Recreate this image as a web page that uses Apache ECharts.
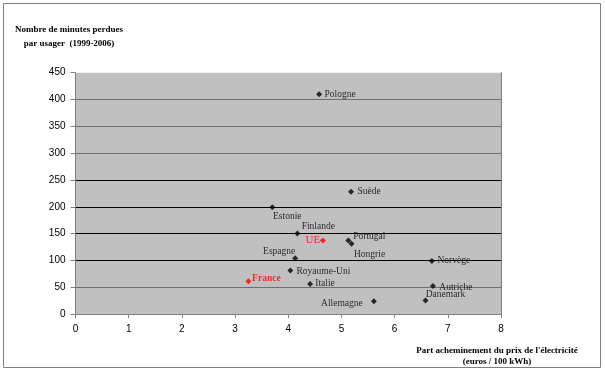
<!DOCTYPE html>
<html><head><meta charset="utf-8">
<script src="https://cdn.jsdelivr.net/npm/echarts@6/dist/echarts.min.js"></script>
<style>html,body{margin:0;padding:0;background:#fff}#c{width:605px;height:374px}</style>
</head><body><div id="c"></div>
<script>
var countries = ['Pologne','Suède','Estonie','Finlande','UE','Portugal','Hongrie','Espagne','Norvège','Royaume-Uni','France','Italie','Autriche','Danemark','Allemagne'];
var priceShare = [4.58,5.18,3.70,4.17,4.65,5.13,5.19,4.13,6.70,4.04,3.25,4.41,6.72,6.58,5.61];
var minutesLost = [410,228,199,150,137,137,131,104,99,81,61,56,52,25,24];
var highlighted = ['UE','France'];
var xTicks = [0,1,2,3,4,5,6,7,8];
var yTicks = [0,50,100,150,200,250,300,350,400,450];

// label placement (pixel offsets of text centre from the marker)
var labelOffsets = {
  'Pologne':[21,0],'Suède':[18,0],'Estonie':[15,9],'Finlande':[21,-7],'UE':[-10,0],
  'Portugal':[21,-4],'Hongrie':[18,11],'Espagne':[-16,-7],'Norvège':[22,0],
  'Royaume-Uni':[33,1],'France':[18,-3],'Italie':[15,0],'Autriche':[23,1],
  'Danemark':[20,-6],'Allemagne':[-32,2]
};
var SYM = 6;

var data = countries.map(function(n,i){
  var red = highlighted.indexOf(n) >= 0;
  var o = labelOffsets[n];
  return {
    name:n, value:[priceShare[i], minutesLost[i]],
    itemStyle:{color: red ? '#ff0000' : '#000000'},
    label:{
      show:true, position:[SYM/2 + o[0], SYM/2 + o[1]], align:'center', verticalAlign:'middle', formatter:n,
      color: red ? '#ff0000' : '#000000',
      fontFamily:'Liberation Serif', fontSize: n==='UE' ? 11 : 9.5,
      fontWeight: n==='France' ? 'bold' : 'normal'
    }
  };
});

var chart = echarts.init(document.getElementById('c'), null, {renderer:'canvas'});
chart.setOption({
  animation:false,
  backgroundColor:'#ffffff',
  grid:{left:75.5, right:104, top:72.7, bottom:60, show:true, backgroundColor:'#c0c0c0', borderWidth:0},
  xAxis:{type:'value', min:xTicks[0], max:xTicks[xTicks.length-1], interval:1,
    axisLine:{lineStyle:{color:'#808080'}}, axisTick:{show:true, length:4, lineStyle:{color:'#808080'}},
    axisLabel:{color:'#000', fontFamily:'Liberation Sans', fontSize:10, margin:10},
    splitLine:{show:false}},
  yAxis:[{type:'value', min:yTicks[0], max:yTicks[yTicks.length-1], interval:50,
    axisLine:{show:true, lineStyle:{color:'#808080'}}, axisTick:{show:true, length:5, lineStyle:{color:'#808080'}},
    axisLabel:{color:'#000', fontFamily:'Liberation Sans', fontSize:10, margin:10},
    splitLine:{show:true, lineStyle:{width:1, color:['#808080','#707070','#000000','#000000','#000000','#000000','#707070','#707070','#707070','rgba(0,0,0,0)']}}},
   {type:'value', position:'right', min:yTicks[0], max:yTicks[yTicks.length-1], interval:50,
    axisLine:{show:true, lineStyle:{color:'#808080'}}, axisTick:{show:false}, axisLabel:{show:false}, splitLine:{show:false}}],
  graphic:[
    {type:'rect', shape:{x:3.5, y:3.5, width:597, height:364}, style:{fill:'none', stroke:'#808080', lineWidth:1}, silent:true},
    {type:'text', x:69, y:23, style:{text:'Nombre de minutes perdues\npar usager  (1999-2006)', textAlign:'center', fill:'#000', font:'bold 9px "Liberation Serif"', lineHeight:14}},
    {type:'text', x:497, y:345, style:{text:'Part acheminement du prix de l\'électricité\n(euros / 100 kWh)', textAlign:'center', fill:'#000', font:'bold 9px "Liberation Serif"', lineHeight:11}}
  ],
  series:[{type:'scatter', symbol:'diamond', symbolSize:SYM, data:data}]
});
</script></body></html>
